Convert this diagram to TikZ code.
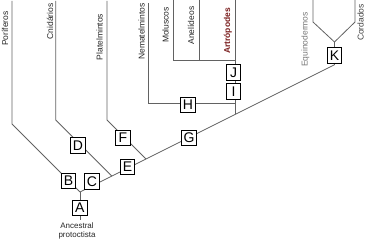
\documentclass[tikz,border=0pt]{standalone}
\usepackage{fontspec}
\setmainfont{Liberation Sans}
\definecolor{branch}{HTML}{626262}
\definecolor{artro}{HTML}{7A1E1E}
\definecolor{equi}{HTML}{767676}
\begin{document}
\begin{tikzpicture}[x=1pt,y=-1pt,
  line/.style={draw=branch,line width=0.8pt},
  mark box/.style={draw=black,fill=white,line width=0.8pt,minimum width=14.5pt,minimum height=15.5pt,inner sep=0pt,font=\fontsize{14}{15}\selectfont},
  taxon/.style={rotate=90,inner sep=0pt,font=\fontsize{8.5}{9}\selectfont,text=black!85}]
\useasboundingbox (0,0) rectangle (365,240);
% coordinates
\coordinate (root) at (80,192);
\coordinate (base) at (80,220);
\coordinate (porTop) at (12,1);
\coordinate (porBend) at (12,124);
\coordinate (cniTop) at (55.7,1);
\coordinate (cniBend) at (55.7,120);
\coordinate (cniJ) at (111.8,176.1);
\coordinate (plaTop) at (107,1);
\coordinate (plaBend) at (107,120);
\coordinate (plaJ) at (146,159);
\coordinate (nemTop) at (148.5,3);
\coordinate (nemBend) at (148.5,103);
\coordinate (nemJ) at (235,103);
\coordinate (molTop) at (173,0);
\coordinate (molBend) at (173,60);
\coordinate (aneTop) at (199.5,0);
\coordinate (aneJ) at (199.5,60);
\coordinate (artTop) at (235,0);
\coordinate (artJ) at (235,60);
\coordinate (artBase) at (235,114.5);
\coordinate (kBase) at (334.5,64.75);
\coordinate (deuJ) at (334.5,42);
\coordinate (equTop) at (313,0);
\coordinate (equBend) at (313,22);
\coordinate (corTop) at (355,0);
\coordinate (corBend) at (355,22);
% branches
\draw[line] (porTop) -- (porBend) -- (root);
\draw[line] (cniTop) -- (cniBend) -- (cniJ);
\draw[line] (plaTop) -- (plaBend) -- (plaJ);
\draw[line] (nemTop) -- (nemBend) -- (nemJ);
\draw[line] (molTop) -- (molBend) -- (artJ);
\draw[line] (aneTop) -- (aneJ);
\draw[line] (artTop) -- (artBase);
\draw[line] (root) -- (kBase);
\draw[line] (root) -- (base);
\draw[line] (kBase) -- (deuJ);
\draw[line] (equTop) -- (equBend) -- (deuJ);
\draw[line] (corTop) -- (corBend) -- (deuJ);
% boxes
\node[mark box] (A) at (79.7,207.8) {A};
\node[mark box] (B) at (68.5,181) {B};
\node[mark box] (C) at (92,181.5) {C};
\node[mark box] (D) at (78,145.5) {D};
\node[mark box] (E) at (127.5,167) {E};
\node[mark box] (F) at (123,138) {F};
\node[mark box] (G) at (189,138) {G};
\node[mark box] (H) at (188,105) {H};
\node[mark box] (I) at (233.5,91.5) {I};
\node[mark box] (J) at (233.5,72.5) {J};
\node[mark box] (K) at (334.5,55.5) {K};
% labels
\node[taxon] (por) at (5,28.5) {Poríferos};
\node[taxon] (cni) at (50,21.5) {Cnidários};
\node[taxon] (pla) at (99.5,37) {Platelmintos};
\node[taxon] (nem) at (141.5,31.5) {Nematelmintos};
\node[taxon] (mol) at (165.5,25) {Moluscos};
\node[taxon] (ane) at (191,25.5) {Anelídeos};
\node[taxon,text=artro,font=\fontsize{8.5}{9}\selectfont\bfseries] (art) at (228,31) {Artrópodes};
\node[taxon,text=equi] (equ) at (305.5,39.5) {Equinodermos};
\node[taxon,text=black!75] (cor) at (360.5,22.5) {Cordados};
\node[align=center,inner sep=0pt,font=\fontsize{8}{9}\selectfont,text=black!85] (anc) at (77,230.5) {Ancestral\\protoctista};
\end{tikzpicture}
\end{document}
